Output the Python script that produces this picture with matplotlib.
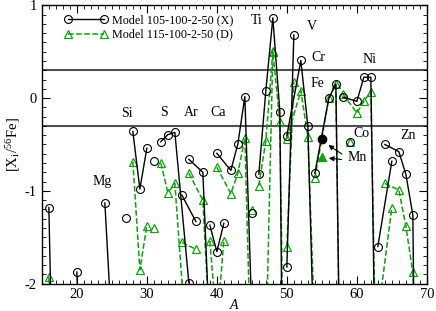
import matplotlib
matplotlib.use('Agg')
import matplotlib.pyplot as plt
from matplotlib.lines import Line2D
from matplotlib.ticker import MultipleLocator

plt.rcParams['font.family'] = ['Liberation Serif', 'DejaVu Serif']
plt.rcParams['mathtext.fontset'] = 'stix'
plt.rcParams['axes.unicode_minus'] = False

# isotopes, grouped by element; values far below -2 fall off the plot
element = ['O', 'O', 'Ne', 'Ne', 'Mg', 'Mg', 'Al',
           'Si', 'Si', 'Si', 'P', 'S', 'S', 'S', 'S', 'Cl', 'Cl',
           'Ar', 'Ar', 'Ar', 'K', 'K', 'K',
           'Ca', 'Ca', 'Ca', 'Ca', 'Ca', 'Ca', 'Sc',
           'Ti', 'Ti', 'Ti', 'Ti', 'Ti', 'V', 'V',
           'Cr', 'Cr', 'Cr', 'Cr', 'Mn', 'Fe', 'Fe', 'Fe', 'Fe', 'Co',
           'Ni', 'Ni', 'Ni', 'Ni', 'Ni', 'Cu', 'Cu',
           'Zn', 'Zn', 'Zn', 'Zn', 'Zn']
mass = [16, 17, 20, 21, 24, 25, 27,
        28, 29, 30, 31, 32, 33, 34, 36, 35, 37,
        36, 38, 40, 39, 40, 41,
        40, 42, 43, 44, 46, 48, 45,
        46, 47, 48, 49, 50, 50, 51,
        50, 52, 53, 54, 55, 54, 56, 57, 58, 59,
        58, 60, 61, 62, 64, 63, 65,
        64, 66, 67, 68, 70]
model_x = [-1.18, -4.7, -1.875, -4.0, -1.13, -2.5, -1.29,
           -0.36, -0.98, -0.54, -0.674, -0.47, -0.394, -0.37, -1.99, -1.045, -1.33,
           -0.66, -0.80, -4.4, -1.37, -1.655, -1.35,
           -0.595, -0.78, -0.495, 0.016, -4.7, -8.0, -1.235,
           -0.82, 0.08, 0.865, -0.146, -8.0, -1.82, 0.68,
           -0.405, 0.405, -0.30, -3.05, -0.44, -0.81, 0.0, 0.153, -5.3, -0.47,
           0.01, -0.035, 0.225, 0.225, -10.0, -1.60, -0.68,
           -0.50, -0.577, -0.82, -1.26, -15.0]
model_d = [-1.93, -5.0, -4.0, -4.0, -4.0, -4.0, -4.0,
           -0.685, -1.85, -1.375, -1.40, -0.70, -1.02, -0.92, -3.0, -1.555, -1.63,
           -0.81, -1.10, -4.0, -1.54, -2.45, -1.54,
           -0.746, -1.03, -0.81, -0.43, -6.0, 0.5, -1.21,
           -0.944, -0.46, 0.505, -0.26, -5.4, -1.60, 0.178,
           -0.44, 0.08, -0.42, -2.5, -0.64, -0.865, 0.0, 0.15, -5.3, -0.47,
           0.045, -0.16, -0.035, 0.07, -8.0, -2.35, -1.18,
           -0.92, -0.99, -1.38, -1.88, -8.0]

labels = ['Mg', 'Si', 'S', 'Ar', 'Ca', 'Ti', 'V', 'Cr', 'Fe', 'Ni', 'Co', 'Zn']
label_a = [23.6, 27.2, 32.5, 36.4, 40.2, 45.7, 53.5, 54.5, 54.4, 61.8, 60.7, 67.3]
label_y = [-0.90, -0.17, -0.16, -0.16, -0.16, 0.835, 0.775, 0.44, 0.16, 0.42, -0.38, -0.40]

green = '#10a010'

fig = plt.figure(figsize=(4.36, 3.11), dpi=100)
ax = fig.add_axes([0.096, 0.088, 0.883, 0.895])

ax.axhline(0.3, color='#505050', lw=1.5, zorder=1)
ax.axhline(-0.3, color='#505050', lw=1.5, zorder=1)

order = []
for el in element:
    if el not in order:
        order.append(el)

for el in order:
    idx = [i for i, e in enumerate(element) if e == el]
    a = [mass[i] for i in idx]
    xv = [model_x[i] for i in idx]
    dv = [model_d[i] for i in idx]
    if el == 'Mn':
        ax.plot(a, dv, marker='^', color=green, ms=6, ls='none', zorder=3)
        ax.plot(a, xv, marker='o', color='black', ms=6, ls='none', zorder=3)
        continue
    ax.plot(a, dv, color=green, ls='--', lw=1.1, marker='^', ms=5.5,
            mfc='none', mec=green, mew=0.9, zorder=2)
    ax.plot(a, xv, color='black', ls='-', lw=1.0, marker='o', ms=5.7,
            mfc='none', mec='black', mew=0.8, zorder=3)

for t, a, y in zip(labels, label_a, label_y):
    ax.text(a, y, t, fontsize=10, ha='center', va='center')

ax.text(60.0, -0.645, 'Mn', fontsize=10, ha='center', va='center')
ax.annotate('', xy=(55.6, -0.49), xytext=(58.2, -0.62),
            arrowprops=dict(arrowstyle='-|>', color='black', lw=0.8, mutation_scale=7))
ax.annotate('', xy=(55.6, -0.645), xytext=(58.2, -0.665),
            arrowprops=dict(arrowstyle='-|>', color='black', lw=0.8, mutation_scale=7))

ax.set_xlim(15, 70)
ax.set_ylim(-2, 1)
ax.xaxis.set_major_locator(MultipleLocator(10))
ax.xaxis.set_minor_locator(MultipleLocator(1))
ax.yaxis.set_major_locator(MultipleLocator(1))
ax.yaxis.set_minor_locator(MultipleLocator(0.1))
ax.tick_params(which='both', direction='in', top=True, right=True, labelsize=10.5)
ax.tick_params(which='major', length=6, width=0.8)
ax.tick_params(which='minor', length=3, width=0.6)
for s in ax.spines.values():
    s.set_linewidth(1.0)

ax.set_xlabel('A', style='italic', fontsize=10, va='center')
ax.xaxis.set_label_coords(0.5, -0.078)
ax.set_ylabel('[X$_\\mathregular{i}$/$^\\mathregular{56}$Fe]', fontsize=10.5, labelpad=2)

handles = [
    Line2D([], [], color='black', ls='-', lw=1.0, marker='o', ms=5.7,
           mfc='none', mec='black', mew=0.8),
    Line2D([], [], color=green, ls='--', lw=1.1, marker='^', ms=5.5,
           mfc='none', mec=green, mew=0.9),
]
ax.legend(handles, ['Model 105-100-2-50 (X)', 'Model 115-100-2-50 (D)'],
          loc='upper left', bbox_to_anchor=(0.035, 1.0), frameon=False,
          numpoints=2, fontsize=8.7, handlelength=3.6, handletextpad=0.35,
          labelspacing=0.2, borderaxespad=0.35)

fig.savefig('out.png', dpi=100)
